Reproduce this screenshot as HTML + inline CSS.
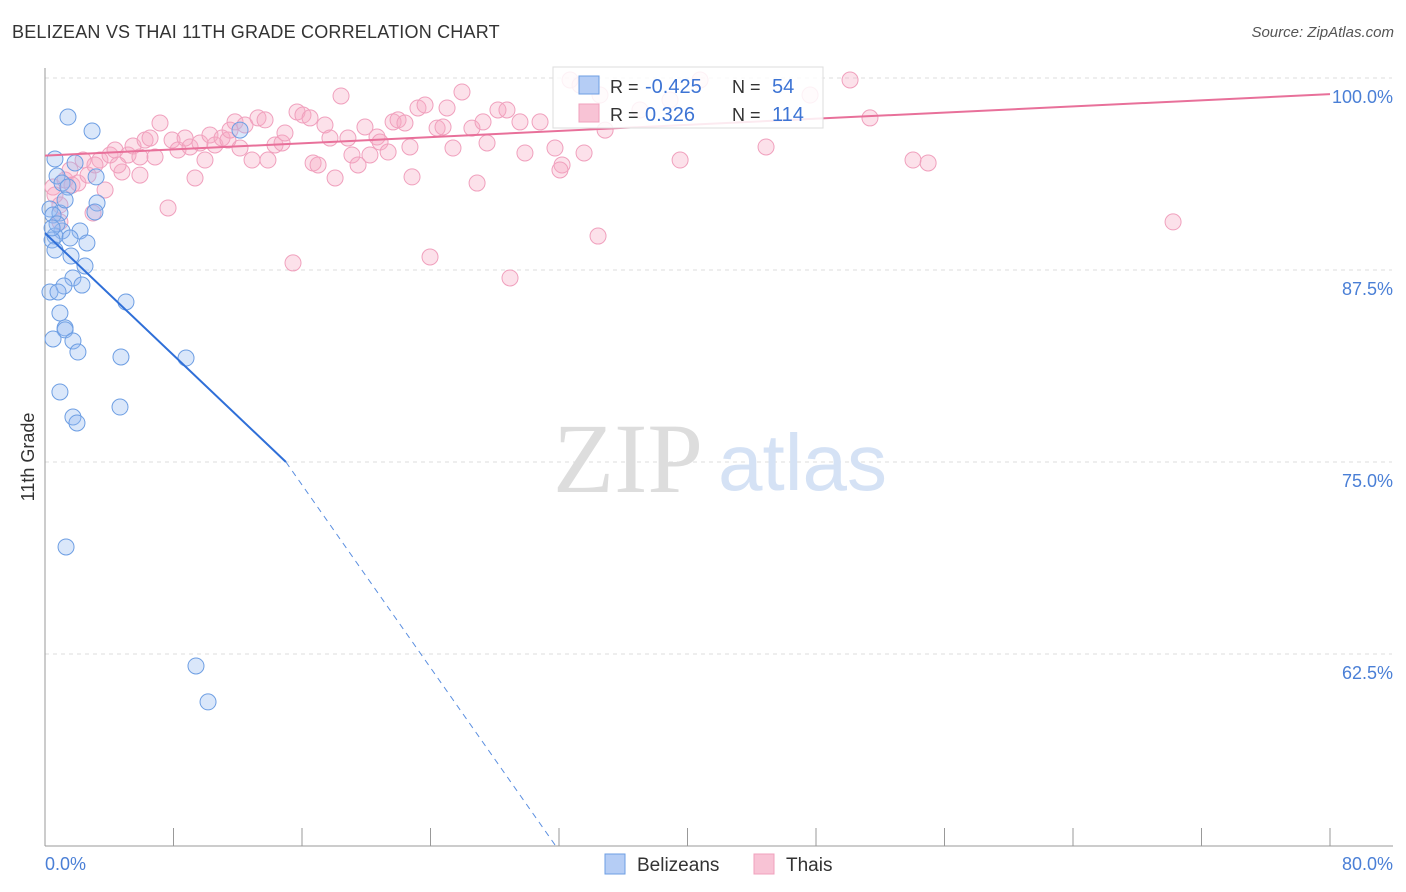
<!DOCTYPE html>
<html><head><meta charset="utf-8">
<style>
body{margin:0;background:#fff;font-family:"Liberation Sans",sans-serif;}
#wrap{position:relative;width:1406px;height:892px;overflow:hidden;}
.t{position:absolute;white-space:nowrap;}
</style></head>
<body>
<div id="wrap">
<div class="t" style="left:12px;top:22px;font-size:18px;color:#333;letter-spacing:0.2px">BELIZEAN VS THAI 11TH GRADE CORRELATION CHART</div>
<div class="t" style="right:12px;top:24px;font-size:15px;color:#555;font-style:italic">Source: ZipAtlas.com</div>
<svg id="svg" width="1406" height="892" style="position:absolute;left:0;top:0"></svg>
</div>
<script>
const blueX=[1.43,2.93,0.62,1.87,0.75,3.18,1.06,1.43,3.24,0.31,0.93,0.50,3.11,2.18,1.06,0.62,1.56,0.44,2.61,0.62,1.62,2.49,1.74,2.30,1.18,0.31,0.81,5.04,0.93,1.25,1.25,0.50,1.74,2.05,4.73,8.78,0.93,4.67,1.74,1.99,1.31,9.40,10.15,12.14,0.75,1.25,0.44];
const blueY=[97.46,96.55,94.73,94.47,93.62,93.56,93.16,92.90,91.86,91.47,91.21,91.08,91.28,90.04,90.04,89.71,89.58,89.45,89.26,88.80,88.41,87.76,86.98,86.52,86.46,86.07,86.07,85.42,84.70,83.73,83.60,83.01,82.88,82.16,81.84,81.77,79.56,78.58,77.93,77.54,69.47,61.72,59.38,96.61,90.50,92.06,90.24];
const pinkX=[0.50,0.62,0.93,1.25,1.68,2.05,2.37,2.99,3.42,4.05,4.36,4.79,5.17,5.48,5.91,6.23,6.54,6.85,7.16,7.66,7.91,8.28,8.72,9.03,9.34,9.65,10.27,10.58,11.02,11.39,11.83,12.14,12.45,12.89,13.26,13.70,13.88,14.32,14.76,14.94,15.44,15.69,16.06,16.50,16.69,17.00,17.43,17.74,18.06,18.43,18.86,19.11,19.49,19.92,20.23,20.67,20.86,21.36,21.67,21.98,22.41,22.72,22.85,23.22,23.66,23.97,24.41,24.78,25.03,25.40,25.96,26.58,26.90,27.27,27.52,28.20,28.76,28.95,29.57,29.88,30.82,31.75,32.19,32.69,33.56,34.43,34.87,39.54,44.89,50.12,51.36,54.04,54.98,70.23,40.78,47.63,37.04,34.55,38.91,33.31,0.93,1.56,2.68,3.74,4.55,3.11,5.91,32.06,11.52,9.96];
const pinkY=[92.90,92.38,91.73,93.36,93.03,93.16,94.66,91.21,94.66,94.99,95.31,93.88,94.99,95.57,94.86,95.96,96.09,94.86,97.07,91.54,95.96,95.31,96.09,95.51,93.49,95.77,96.29,95.64,96.09,95.96,97.14,95.44,96.94,94.66,97.40,97.27,94.66,95.64,95.77,96.42,87.96,97.79,97.59,97.40,94.47,94.34,96.94,96.09,93.49,98.83,96.09,94.99,94.34,96.81,94.99,96.16,95.83,95.18,97.14,97.27,97.07,95.51,93.56,98.05,98.24,88.35,96.74,96.81,98.05,95.44,99.09,96.74,93.16,97.14,95.77,97.92,97.92,86.98,97.14,95.12,97.14,95.44,94.34,99.87,95.12,89.71,96.61,94.66,95.51,99.87,97.40,94.66,94.47,90.63,99.87,98.89,97.92,98.89,98.57,99.54,90.63,94.01,93.68,92.71,94.34,94.34,93.68,94.01,96.61,94.66];
const yTicks=[100,87.5,75,62.5];
const xTickLabels=["0.0%","80.0%"];
const blueLine=[0,89.9,15,75.0,31.8,50.0];
const pinkLine=[0,94.95,80,98.95];

const NS="http://www.w3.org/2000/svg";
const svg=document.getElementById('svg');
const X=v=>45+v/80*1285;
const Y=v=>78+(100-v)/12.5*192;
function el(tag,attrs,txt){const e=document.createElementNS(NS,tag);for(const k in attrs)e.setAttribute(k,attrs[k]);if(txt!==undefined)e.textContent=txt;svg.appendChild(e);return e;}

yTicks.forEach(v=>{
  const g=el('line',{x1:45,x2:1392,y1:Y(v),y2:Y(v),stroke:'#ddd','stroke-dasharray':'4,4'});
  
  
  const t=el('text',{x:1393,y:Y(v)+25,'text-anchor':'end','font-size':18,fill:'#4a7fd6','font-family':'Liberation Sans'},v.toFixed(1)+'%');
  
  
});
let a=el('line',{x1:45,x2:45,y1:68,y2:846,stroke:'#999'});

a=el('line',{x1:45,x2:1393,y1:846,y2:846,stroke:'#999'});

for(let i=0;i<=10;i++){const tk=el('line',{x1:X(i*8),x2:X(i*8),y1:828,y2:846,stroke:'#999'});
}
let tx=el('text',{x:45,y:870,'font-size':18,fill:'#4a7fd6'},xTickLabels[0]);

tx=el('text',{x:1393,y:870,'text-anchor':'end','font-size':18,fill:'#4a7fd6'},xTickLabels[1]);

tx=el('text',{x:34,y:457,'font-size':18,fill:'#333',transform:'rotate(-90 34 457)','text-anchor':'middle'},'11th Grade');

tx=el('text',{x:553,y:492,'font-size':100,fill:'#ddd','font-family':'Liberation Serif'},'ZIP');

tx=el('text',{x:718,y:490,'font-size':80,fill:'#d5e2f5'},'atlas');


pinkX.forEach((x,i)=>{const c=el('circle',{cx:X(x),cy:Y(pinkY[i]),r:8,fill:'rgba(246,170,196,0.35)',stroke:'#f0a0bd','stroke-width':1});
});
blueX.forEach((x,i)=>{const c=el('circle',{cx:X(x),cy:Y(blueY[i]),r:8,fill:'rgba(150,185,240,0.35)',stroke:'#6d9ee3','stroke-width':1});
});

let l=el('line',{x1:X(blueLine[0]),y1:Y(blueLine[1]),x2:X(blueLine[2]),y2:Y(blueLine[3]),stroke:'#2f6fd8','stroke-width':2});

l=el('line',{x1:X(blueLine[2]),y1:Y(blueLine[3]),x2:X(blueLine[4]),y2:Y(blueLine[5]),stroke:'#5b8fe0','stroke-width':1,'stroke-dasharray':'6,5'});

l=el('line',{x1:X(pinkLine[0]),y1:Y(pinkLine[1]),x2:X(pinkLine[2]),y2:Y(pinkLine[3]),stroke:'#e8709a','stroke-width':2});


let r=el('rect',{x:553,y:67,width:270,height:61,fill:'rgba(255,255,255,0.85)',stroke:'#ddd'});

r=el('rect',{x:579,y:76,width:20,height:18,fill:'#b5cdf5',stroke:'#6d9ee3'});

r=el('rect',{x:579,y:104,width:20,height:18,fill:'#f8c3d5',stroke:'#f0a0bd'});

[[93,'-0.425','54'],[121,' 0.326','114']].forEach((d,i)=>{
 let t=el('text',{x:610,y:d[0],'font-size':18,fill:'#333'},'R = ');
 
 t=el('text',{x:645,y:d[0],'font-size':20,fill:'#3d74d4','xml:space':'preserve'},d[1]);
 
 t=el('text',{x:732,y:d[0],'font-size':18,fill:'#333'},'N = ');
 
 t=el('text',{x:772,y:d[0],'font-size':20,fill:'#3d74d4'},d[2]);
 
});
r=el('rect',{x:605,y:854,width:20,height:20,fill:'#b5cdf5',stroke:'#6d9ee3'});

tx=el('text',{x:637,y:871,'font-size':19,fill:'#333'},'Belizeans');

r=el('rect',{x:754,y:854,width:20,height:20,fill:'#f8c3d5',stroke:'#f0a0bd'});

tx=el('text',{x:786,y:871,'font-size':19,fill:'#333'},'Thais');

</script>
</body></html>
